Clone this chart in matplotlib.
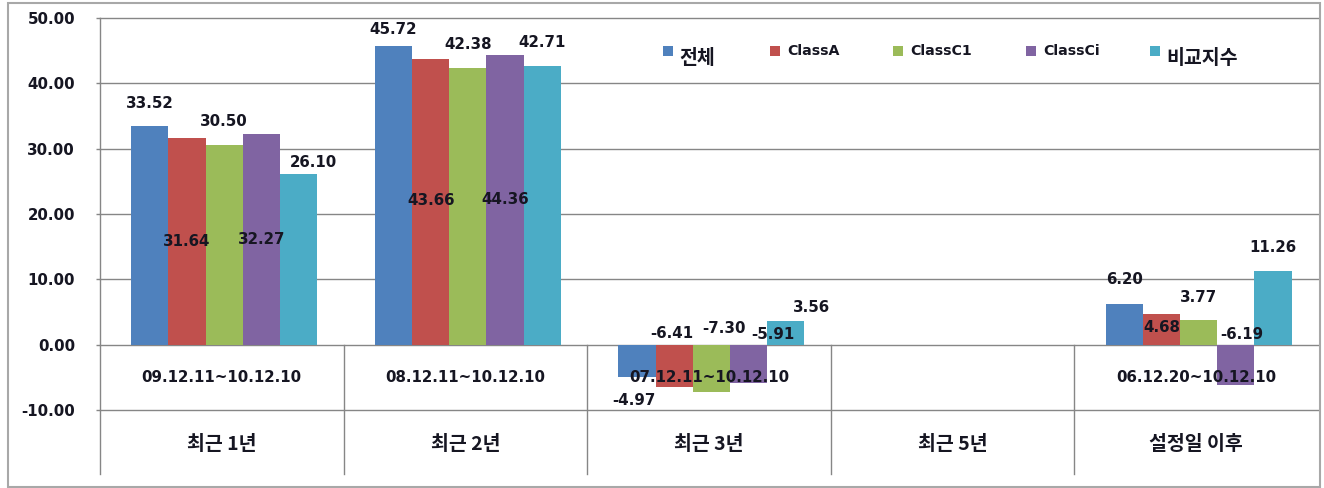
import numpy as np
import matplotlib
matplotlib.use('Agg')
import matplotlib.pyplot as plt
from matplotlib.patches import Rectangle

# ---------------- data ----------------
periods = ['최근 1년', '최근 2년', '최근 3년', '최근 5년', '설정일 이후']
date_ranges = ['09.12.11~10.12.10', '08.12.11~10.12.10', '07.12.11~10.12.10', '', '06.12.20~10.12.10']
series_names = ['전체', 'ClassA', 'ClassC1', 'ClassCi', '비교지수']
total = [33.52, 45.72, -4.97, np.nan, 6.20]
class_a = [31.64, 43.66, -6.41, np.nan, 4.68]
class_c1 = [30.50, 42.38, -7.30, np.nan, 3.77]
class_ci = [32.27, 44.36, -5.91, np.nan, -6.19]
benchmark = [26.10, 42.71, 3.56, np.nan, 11.26]
y_ticks = [-10, 0, 10, 20, 30, 40, 50]

# ---------------- layout / style ----------------
colors = ['#4F81BD', '#C0504D', '#9BBB59', '#8064A2', '#4BACC6']
# data-label placement (label centre in y units, x nudge in pixels)
label_y = [
    [36.89, 48.22, -8.57, np.nan, 9.95],
    [15.77, 22.04, 1.68, np.nan, 2.60],
    [34.13, 45.92, 2.45, np.nan, 7.19],
    [16.07, 22.19, 1.53, np.nan, 1.53],
    [27.86, 46.23, 5.74, np.nan, 14.85],
]
label_dx = [
    [0, 0, -3, 0, 0],
    [0, 0, -2, 0, 0],
    [0, 0, 13, 0, 0],
    [0, 0, 24, 0, 6],
    [15, 0, 26, 0, 0],
]
legend_px = [663, 770, 893, 1026, 1150]

W, H = 1324, 488
GRID = '#868686'
TXT = '#161622'
NUM_FONT = dict(family='DejaVu Sans', weight='bold', size=10.8, color=TXT)
KR_FONT = dict(family=['Noto Sans CJK KR', 'DejaVu Sans'], weight='bold', size=14, color=TXT)

fig = plt.figure(figsize=(W / 100, H / 100), dpi=100)
ax = fig.add_axes([100 / W, (H - 410) / H, 1218 / W, 392 / H])

series = [total, class_a, class_c1, class_ci, benchmark]
n = len(series)
x = np.arange(len(periods))
bw = 0.1527
shift = 0.01
for j, vals in enumerate(series):
    xs = x + shift + (j - (n - 1) / 2) * bw
    ax.bar(xs, vals, width=bw, color=colors[j], linewidth=0, zorder=2)
    for i, v in enumerate(vals):
        if np.isnan(v):
            continue
        ax.annotate(f'{v:.2f}', xy=(xs[i], label_y[j][i]), xytext=(label_dx[j][i], 0),
                    textcoords='offset pixels', ha='center', va='center', zorder=5,
                    **NUM_FONT)

ax.set_xlim(-0.5, len(periods) - 0.5)
ax.set_ylim(min(y_ticks), max(y_ticks))
ax.set_yticks(y_ticks)
ax.set_yticklabels([f'{t:.2f}' for t in y_ticks])
for lab in ax.get_yticklabels():
    lab.set_fontfamily('DejaVu Sans')
    lab.set_fontweight('bold')
    lab.set_fontsize(10.8)
    lab.set_color(TXT)
ax.tick_params(axis='y', length=3, width=1, color=GRID, pad=15)
ax.set_xticks([])
ax.yaxis.grid(True, color=GRID, linewidth=1)
for gl in ax.get_ygridlines():
    gl.set_clip_on(False)
ax.set_axisbelow(True)
for s in ax.spines.values():
    s.set_visible(False)

# category axis: separators and two-level labels
xt = ax.get_xaxis_transform()
zero_frac = (0 - min(y_ticks)) / (max(y_ticks) - min(y_ticks))
bottom_frac = -64 / 392
ax.plot([-0.5, -0.5], [1, bottom_frac], transform=xt, color=GRID, lw=1, clip_on=False, zorder=1)
for b in np.arange(0.5, len(periods) - 1, 1.0):
    ax.plot([b, b], [zero_frac, bottom_frac], transform=xt, color=GRID, lw=1, clip_on=False, zorder=1)
for i in range(len(periods)):
    ax.text(x[i], 32 / 392, date_ranges[i], transform=xt, ha='center', va='center', zorder=6, **NUM_FONT)
    ax.text(x[i], -35 / 392, periods[i], transform=xt, ha='center', va='center', **KR_FONT)

# legend (manual, Excel style)
for j, name in enumerate(series_names):
    lx = legend_px[j]
    fig.patches.append(Rectangle((lx / W, 1 - 56 / H), 10 / W, 10 / H,
                                 transform=fig.transFigure, color=colors[j], lw=0))
    is_kr = not name.isascii()
    if is_kr:
        fig.text((lx + 16) / W, 1 - 58 / H, name, ha='left', va='center', **KR_FONT)
    else:
        fig.text((lx + 17) / W, 1 - 51 / H, name, ha='left', va='center',
                 family='DejaVu Sans', weight='bold', size=10.2, color=TXT)

# chart frame
fig.patches.append(Rectangle((8 / W, 1 - 487 / H), 1312 / W, 484 / H, transform=fig.transFigure,
                             fill=False, edgecolor='#A8A8A8', lw=1.5))

fig.savefig('out.png', dpi=100)
